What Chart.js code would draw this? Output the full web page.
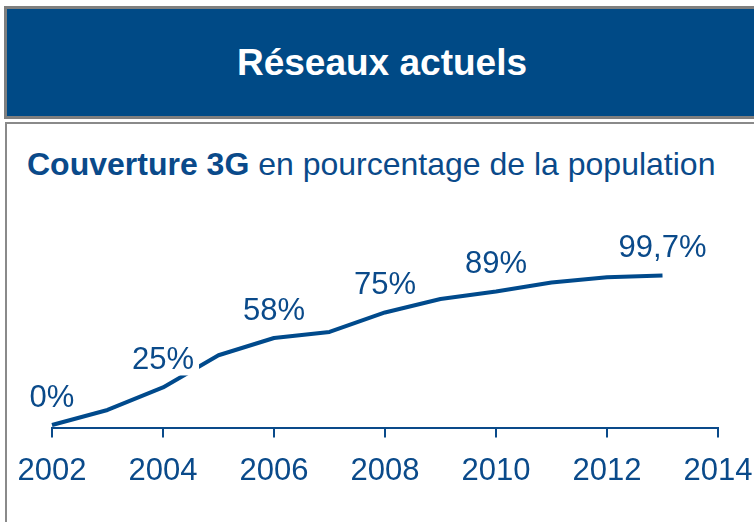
<!DOCTYPE html>
<html>
<head>
<meta charset="utf-8">
<script src="https://cdn.jsdelivr.net/npm/chart.js@4.4.1/dist/chart.umd.min.js"></script>
<style>
  html, body { margin: 0; padding: 0; background: #fff; }
  body { width: 754px; height: 522px; position: relative; overflow: hidden; font-family: "Liberation Sans", Arial, sans-serif; }
  #header {
    position: absolute; left: 4px; top: 6px; width: 760px; height: 107px;
    background: #004a86; border: 3px solid #7f7f7f;
  }
  #header-title {
    position: absolute; left: 0; top: 44px; width: 764px; text-align: center;
    color: #fff; font-weight: bold; font-size: 37px; line-height: 37px;
  }
  #panel {
    position: absolute; left: 5px; top: 122px; width: 760px; height: 420px;
    background: #fff; border: 2px solid #8a8a8a;
  }
  #subtitle {
    position: absolute; left: 27px; top: 148px; white-space: nowrap;
    color: #0a4a8a; font-size: 32px; line-height: 32px;
  }
  #subtitle b { font-weight: bold; }
  #wrap { position: absolute; left: 0; top: 0; width: 754px; height: 522px; }
</style>
</head>
<body>
<div id="header"></div>
<div id="header-title">Réseaux actuels</div>
<div id="panel"></div>
<div id="subtitle"><b>Couverture 3G</b> en pourcentage de la population</div>
<div id="wrap"><canvas id="chart" width="754" height="522"></canvas></div>
<script>
// 3G coverage, % of population, by year
const years = [2002, 2003, 2004, 2005, 2006, 2007, 2008, 2009, 2010, 2011, 2012, 2013];
const coverage = [0, 10, 25, 46.5, 58, 62, 75, 84, 89, 95, 98.5, 99.7];

// which points carry a value label
const labelYears = [2002, 2004, 2006, 2008, 2010, 2013];
const labelTexts = ['0%', '25%', '58%', '75%', '89%', '99,7%'];

// x axis tick labels
const yearTicks = [2002, 2004, 2006, 2008, 2010, 2012, 2014];

const BLUE = '#0a4a8a';
const FONT = '"Liberation Sans", Arial, sans-serif';

// value labels above the line, on a white box (the 25% one cuts the line)
const pointLabels = {
  id: 'pointLabels',
  afterDatasetsDraw(chart) {
    const ctx = chart.ctx;
    const meta = chart.getDatasetMeta(0);
    ctx.save();
    ctx.font = '31px ' + FONT;
    ctx.textAlign = 'center';
    ctx.textBaseline = 'alphabetic';
    labelYears.forEach((yr, j) => {
      const pt = meta.data[years.indexOf(yr)];
      const txt = labelTexts[j];
      const w = ctx.measureText(txt).width;
      const base = pt.y - 18;
      ctx.fillStyle = '#fff';
      ctx.fillRect(pt.x - w / 2 - 5, base - 28, w + 10, 34);
      ctx.fillStyle = BLUE;
      ctx.fillText(txt, pt.x, base);
    });
    ctx.restore();
  }
};

new Chart(document.getElementById('chart'), {
  type: 'line',
  data: {
    datasets: [{
      data: years.map((yr, i) => ({ x: yr, y: coverage[i] })),
      borderColor: '#004a8c',
      borderWidth: 4,
      pointRadius: 0,
      tension: 0,
      borderJoinStyle: 'round',
      clip: false
    }]
  },
  options: {
    responsive: false,
    animation: false,
    events: [],
    layout: { padding: { left: 52, right: 36, top: 260, bottom: 34.5 } },
    plugins: { legend: { display: false }, tooltip: { enabled: false } },
    scales: {
      x: {
        type: 'linear',
        min: 2002,
        max: 2014,
        afterBuildTicks: s => { s.ticks = yearTicks.map(v => ({ value: v })); },
        afterFit: s => { s.height = 60; s.paddingLeft = 0; s.paddingRight = 0; },
        border: { display: true, color: BLUE, width: 2 },
        grid: { drawOnChartArea: false, drawTicks: true, tickLength: 10, color: BLUE, lineWidth: 2 },
        ticks: {
          autoSkip: false,
          maxRotation: 0,
          padding: 15,
          color: BLUE,
          font: { family: FONT, size: 31 },
          callback: v => String(v)
        }
      },
      y: { display: false, min: -1.7, max: 110 }
    }
  },
  plugins: [pointLabels]
});
</script>
</body>
</html>
